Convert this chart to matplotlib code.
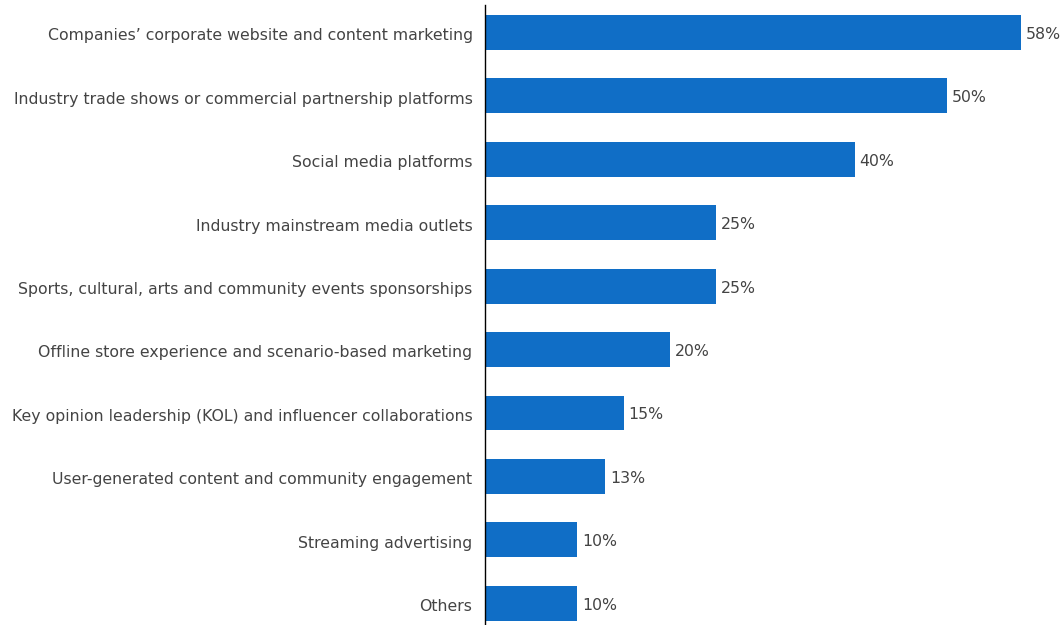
import matplotlib
matplotlib.use("Agg")
import matplotlib.pyplot as plt
from matplotlib import font_manager

names = {f.name for f in font_manager.fontManager.ttflist}
FAMILY = "Liberation Sans Narrow" if "Liberation Sans Narrow" in names else "DejaVu Sans"
plt.rcParams["font.family"] = [FAMILY, "DejaVu Sans"]

BAR = "#106EC6"
TEXT = "#444444"

categories = [
    "Companies\u2019 corporate website and content marketing",
    "Industry trade shows or commercial partnership platforms",
    "Social media platforms",
    "Industry mainstream media outlets",
    "Sports, cultural, arts and community events sponsorships",
    "Offline store experience and scenario-based marketing",
    "Key opinion leadership (KOL) and influencer collaborations",
    "User-generated content and community engagement",
    "Streaming advertising",
    "Others",
]
values = [58, 50, 40, 25, 25, 20, 15, 13, 10, 10]

fig = plt.figure(figsize=(10.6, 6.25), dpi=100)
ax = fig.add_axes([485 / 1060, 0, 1 - 485 / 1060, 620 / 625])

ypos = list(range(len(categories)))
ax.barh(ypos, values, height=0.55, color=BAR, edgecolor="none")
for y, v in zip(ypos, values):
    ax.text(v + 0.5, y + 0.03, f"{v}%", va="center", ha="left", fontsize=11.3, color=TEXT)

ax.set_yticks([y + 0.03 for y in ypos])
ax.set_yticklabels(categories, fontsize=11.3, color=TEXT)
ax.tick_params(axis="y", length=0, pad=9)
ax.set_ylim(9.344, -0.434)
ax.set_xlim(0, 62.2)
ax.set_xticks([])
for side in ("top", "right", "bottom"):
    ax.spines[side].set_visible(False)
ax.spines["left"].set_color("black")
ax.spines["left"].set_linewidth(1)

fig.savefig("out.png", dpi=100, facecolor="white")
